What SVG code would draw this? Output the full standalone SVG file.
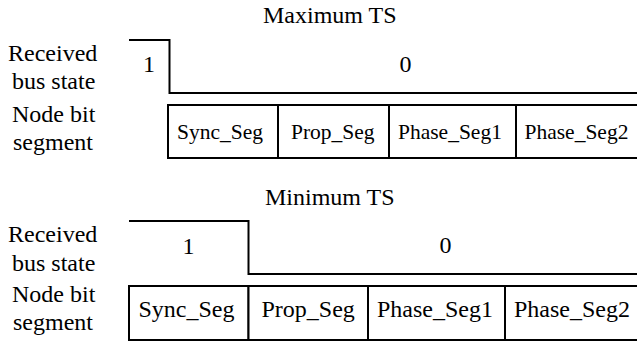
<svg xmlns="http://www.w3.org/2000/svg" width="637" height="344" viewBox="0 0 637 344">
<rect width="637" height="344" fill="#fff"/>
<g id="top-title"><text x="263" y="23" font-size="24" font-family="Liberation Serif">Maximum TS</text></g>
<g id="top-labels">
<text x="8" y="61" font-size="24" font-family="Liberation Serif">Received</text>
<text x="12" y="89" font-size="24" font-family="Liberation Serif">bus state</text>
<text x="12" y="122" font-size="24" font-family="Liberation Serif">Node bit</text>
<text x="13" y="150" font-size="24" font-family="Liberation Serif">segment</text>
</g>
<g id="top-bus">
<polyline fill="none" stroke="#000" stroke-width="2" points="129,40 169.5,40 169.5,93 637,93"/>
<text x="143" y="72" font-size="24" font-family="Liberation Serif">1</text>
<text x="399.5" y="72" font-size="24" font-family="Liberation Serif">0</text>
</g>
<g id="top-segments" fill="#fff" stroke="#000" stroke-width="2">
<rect x="168" y="105" width="110" height="53"/>
<rect x="278" y="105" width="111" height="53"/>
<rect x="389" y="105" width="127" height="53"/>
<rect x="516" y="105" width="125" height="53"/>
</g>
<g id="top-segment-labels">
<text x="177" y="139" font-size="21.5" font-family="Liberation Serif">Sync_Seg</text>
<text x="291" y="139" font-size="21.5" font-family="Liberation Serif">Prop_Seg</text>
<text x="398" y="139" font-size="21.5" font-family="Liberation Serif">Phase_Seg1</text>
<text x="524.5" y="139" font-size="21.5" font-family="Liberation Serif">Phase_Seg2</text>
</g>
<g id="bottom-title"><text x="265" y="205" font-size="24" font-family="Liberation Serif">Minimum TS</text></g>
<g id="bottom-labels">
<text x="8" y="242" font-size="24" font-family="Liberation Serif">Received</text>
<text x="12" y="271" font-size="24" font-family="Liberation Serif">bus state</text>
<text x="12" y="302" font-size="24" font-family="Liberation Serif">Node bit</text>
<text x="13" y="330" font-size="24" font-family="Liberation Serif">segment</text>
</g>
<g id="bottom-bus">
<polyline fill="none" stroke="#000" stroke-width="2" points="129,221 248.5,221 248.5,274 637,274"/>
<text x="182.5" y="254" font-size="24" font-family="Liberation Serif">1</text>
<text x="439.5" y="253" font-size="24" font-family="Liberation Serif">0</text>
</g>
<g id="bottom-segments" fill="#fff" stroke="#000" stroke-width="2">
<rect x="129" y="286" width="119.5" height="54"/>
<rect x="248.5" y="286" width="119.5" height="54"/>
<rect x="368" y="286" width="137" height="54"/>
<rect x="505" y="286" width="136" height="54"/>
</g>
<g id="bottom-segment-labels">
<text x="138.5" y="317" font-size="24" font-family="Liberation Serif">Sync_Seg</text>
<text x="261.5" y="317" font-size="24" font-family="Liberation Serif">Prop_Seg</text>
<text x="377" y="317" font-size="24" font-family="Liberation Serif">Phase_Seg1</text>
<text x="514" y="317" font-size="24" font-family="Liberation Serif">Phase_Seg2</text>
</g>
</svg>
